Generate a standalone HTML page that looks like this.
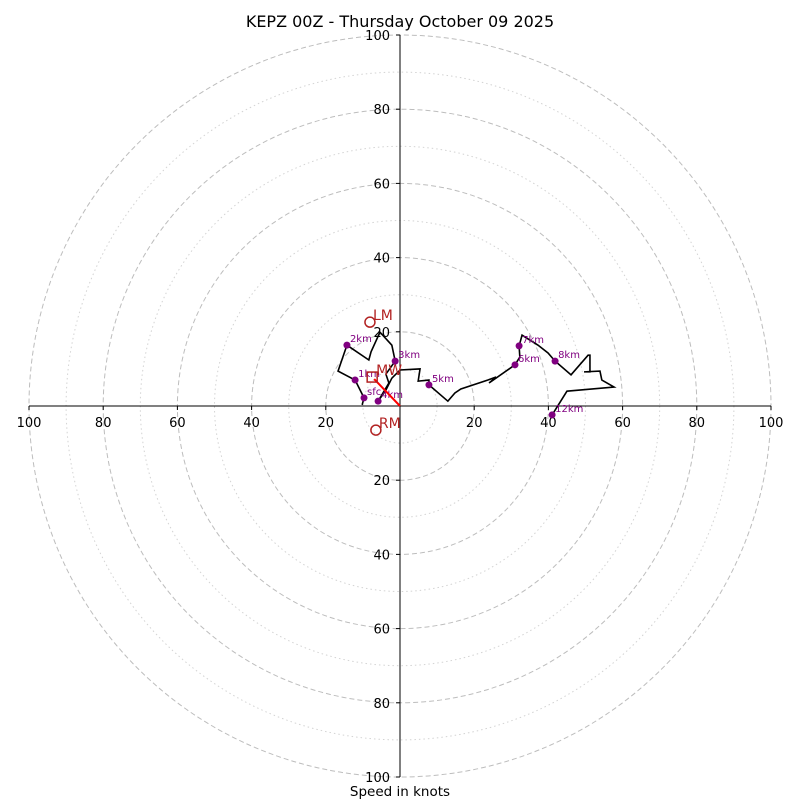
<!DOCTYPE html>
<html><head><meta charset="utf-8"><style>
body{margin:0;background:#fff}
svg{display:block;font-family:"DejaVu Sans","Liberation Sans",sans-serif}
</style></head><body>
<svg id="c" width="800" height="800">
<text x="400" y="27" font-size="16" text-anchor="middle">KEPZ 00Z - Thursday October 09 2025</text>
<text x="400" y="796" font-size="13.5" text-anchor="middle">Speed in knots</text>
</svg>
<script>
const uVals=[-10.2,-9.7,-12.1,-16.7,-14.3,-8.4,-7.8,-5.4,-2.2,-1.3,-3.8,-3.0,-5.9,-3.8,-2.2,0,5.4,4.9,7.8,7.8,12.9,14.8,16.4,23.7,25.9,24.0,31.0,32.3,32.1,32.9,37.2,39.9,41.8,46.1,50.7,51.2,51.2,49.6,53.9,54.4,57.7,45.0,41.0];
const vVals=[0.3,2.2,7.0,9.4,16.4,12.4,14.6,19.9,16.4,12.1,8.6,6.2,1.3,4.3,7.5,9.7,10.0,6.7,7.0,5.7,1.3,3.5,4.6,7.0,7.8,6.2,11.1,13.2,16.2,19.1,16.4,14.3,12.1,8.4,13.7,13.7,9.2,9.2,9.4,7.0,5.1,4.0,-2.4];
const markLabels=["sfc","1km","2km","3km","4km","5km","6km","7km","8km","12km"];
const markU=[-9.7,-12.1,-14.3,-1.3,-5.9,7.8,31.0,32.1,41.8,41.0];
const markV=[2.2,7.0,16.4,12.1,1.3,5.7,11.1,16.2,12.1,-2.4];
const motionNames=["LM","RM"];
const motionU=[-8.1,-6.5];
const motionV=[22.6,-6.5];
const mwU=-7.5, mwV=7.8;
const rings=[10,20,30,40,50,60,70,80,90,100];
const tickVals=[20,40,60,80,100];

const cx=400,cy=406,k=3.71;
const X=u=>cx+u*k, Y=v=>cy-v*k;
const svg=document.getElementById('c');
const NS='http://www.w3.org/2000/svg';
function mk(t,a,p){const e=document.createElementNS(NS,t);for(const n in a)e.setAttribute(n,a[n]);(p||svg).appendChild(e);return e;}

rings.forEach(r=>{
  const e=mk('circle',{cx:cx,cy:cy,r:r*k,fill:'none',stroke:r%20?'#d3d3d3':'#bdbdbd','stroke-width':1,'stroke-dasharray':r%20?'1.5,3':'5,3'});
  
  
});
let a=mk('line',{x1:X(-100),y1:cy,x2:X(100),y2:cy,stroke:'#000','stroke-width':1});


a=mk('line',{x1:cx,y1:Y(100),x2:cx,y2:Y(-100),stroke:'#000','stroke-width':1});


tickVals.forEach(t=>{
  [1,-1].forEach(s=>{
    mk('line',{x1:X(s*t),y1:cy,x2:X(s*t),y2:cy+4,stroke:'#000'});
    let tx=mk('text',{x:X(s*t),y:cy+21,'font-size':13,'text-anchor':'middle'});tx.textContent=t;
    
    
    mk('line',{x1:cx-4,y1:Y(s*t),x2:cx,y2:Y(s*t),stroke:'#000'});
    let ty=mk('text',{x:cx-10,y:Y(s*t)+5,'font-size':13,'text-anchor':'end'});ty.textContent=t;
    
    
  });
});
const pl=mk('polyline',{points:uVals.map((u,i)=>X(u)+','+Y(vVals[i])).join(' '),fill:'none',stroke:'#000','stroke-width':1.6});


markLabels.forEach((l,i)=>{
  const d=mk('circle',{cx:X(markU[i]),cy:Y(markV[i]),r:3.5,fill:'#800080'});
  
  
  const t=mk('text',{x:X(markU[i])+3,y:Y(markV[i])-3,'font-size':10,fill:'#800080'});t.textContent=l;
  
  
});
const ar=mk('line',{x1:cx,y1:cy,x2:X(mwU)+2,y2:Y(mwV)+2,stroke:'red','stroke-width':2});


const sq=mk('rect',{x:X(mwU)-5,y:Y(mwV)-5,width:10,height:10,fill:'none',stroke:'#b22222','stroke-width':1.5});


const mt=mk('text',{x:X(mwU)+4,y:Y(mwV)-2,'font-size':14,fill:'#b22222'});mt.textContent='MW';


motionNames.forEach((n,i)=>{
  const c=mk('circle',{cx:X(motionU[i]),cy:Y(motionV[i]),r:5,fill:'none',stroke:'#b22222','stroke-width':1.5});
  
  
  const t=mk('text',{x:X(motionU[i])+3,y:Y(motionV[i])-2,'font-size':14,fill:'#b22222'});t.textContent=n;
  
  
});
</script>
</body></html>
